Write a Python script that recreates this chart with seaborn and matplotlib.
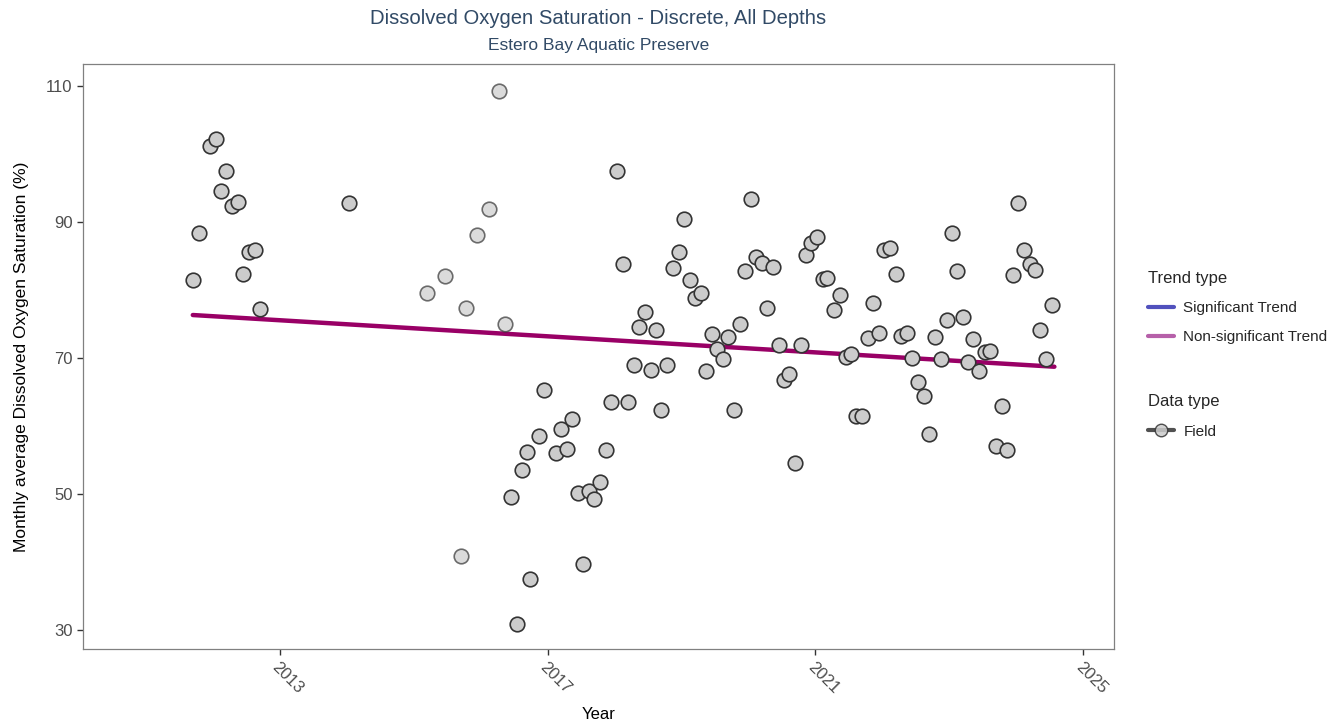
import numpy as np
import pandas as pd
import matplotlib
matplotlib.use("Agg")
import matplotlib.pyplot as plt
from matplotlib.lines import Line2D
import seaborn as sns

# ── data ──────────────────────────────────────────────────────────────────────

years = [
    2011.70, 2011.79, 2011.95, 2012.04, 2012.12, 2012.19, 2012.28, 2012.37,
    2012.45, 2012.54, 2012.63, 2012.70,
    2014.04,
    2015.20, 2015.46, 2015.71, 2015.78, 2015.95, 2016.12, 2016.28, 2016.37,
    2016.45, 2016.54, 2016.62, 2016.69, 2016.74, 2016.87, 2016.95,
    2017.12, 2017.20, 2017.29, 2017.36, 2017.45, 2017.53, 2017.62, 2017.70,
    2017.78, 2017.87, 2017.95, 2018.03, 2018.12, 2018.20, 2018.29, 2018.37,
    2018.45, 2018.54, 2018.62, 2018.70, 2018.78, 2018.87, 2018.96, 2019.03,
    2019.12, 2019.20, 2019.29, 2019.37, 2019.45, 2019.53, 2019.62, 2019.70,
    2019.78, 2019.87, 2019.95, 2020.04, 2020.12, 2020.20, 2020.28, 2020.36,
    2020.45, 2020.53, 2020.61, 2020.70, 2020.78, 2020.86, 2020.94, 2021.03,
    2021.11, 2021.18, 2021.28, 2021.37, 2021.45, 2021.53, 2021.61, 2021.69,
    2021.78, 2021.86, 2021.95, 2022.03, 2022.11, 2022.20, 2022.28, 2022.37,
    2022.45, 2022.53, 2022.62, 2022.70, 2022.78, 2022.87, 2022.96, 2023.04,
    2023.12, 2023.20, 2023.28, 2023.36, 2023.45, 2023.53, 2023.61, 2023.70,
    2023.78, 2023.86, 2023.95, 2024.03, 2024.12, 2024.20, 2024.28, 2024.36,
    2024.45, 2024.53,
]

do_sat = [
    81.5, 88.4, 101.2, 102.2, 94.6, 97.4, 92.4, 92.9,
    82.4, 85.6, 85.9, 77.2,
    92.8,
    79.6, 82.1, 40.9, 77.3, 88.1, 91.9, 109.3, 75.0,
    49.6, 30.9, 53.5, 56.2, 37.5, 58.5, 65.3,
    56.0, 59.6, 56.6, 61.0, 50.1, 39.7, 50.5, 49.3,
    51.8, 56.4, 63.5, 97.4, 83.8, 63.5, 69.0, 74.5,
    76.8, 68.2, 74.1, 62.4, 68.9, 83.2, 85.6, 90.4,
    81.4, 78.8, 79.6, 68.0, 73.5, 71.3, 69.9, 73.0,
    62.4, 75.0, 82.8, 93.3, 84.8, 84.0, 77.4, 83.3,
    71.9, 66.7, 67.7, 54.5, 71.9, 85.1, 86.9, 87.7,
    81.6, 81.8, 77.0, 79.3, 70.1, 70.5, 61.5, 61.5,
    72.9, 78.1, 73.7, 85.8, 86.2, 82.3, 73.2, 73.7,
    70.0, 66.4, 64.4, 58.8, 73.0, 69.9, 75.6, 88.3,
    82.8, 76.0, 69.4, 72.8, 68.0, 70.9, 71.0, 57.0,
    62.9, 56.5, 82.2, 92.8, 85.8, 83.8, 82.9, 74.1,
    69.8, 77.8,
]

# months drawn faded in the reference (few samples)
faded_years = [2015.20, 2015.46, 2015.71, 2015.78, 2015.95, 2016.12, 2016.28, 2016.37]

trend_years = [2011.70, 2024.57]
trend_values = [76.3, 68.7]

x_ticks = [2013, 2017, 2021, 2025]
y_ticks = [30, 50, 70, 90, 110]

# ── plot ──────────────────────────────────────────────────────────────────────

sns.set_theme(style="white")
plt.rcParams["font.family"] = ["Liberation Sans", "DejaVu Sans"]

df = pd.DataFrame({"Year": years, "DO": do_sat})
df["faded"] = df["Year"].isin(faded_years)
trend = pd.DataFrame({"Year": trend_years, "DO": trend_values})

fig = plt.figure(figsize=(13.41, 7.25), dpi=100)
ax = fig.add_axes([0.0619, 0.1048, 0.7688, 0.8069])

point_kw = dict(x="Year", y="DO", s=110, color="#cccccc",
                edgecolor="#333333", linewidth=1.2, ax=ax, legend=False, zorder=3)
sns.scatterplot(data=df[~df["faded"]], alpha=1.0, **point_kw)
sns.scatterplot(data=df[df["faded"]], alpha=0.7, **point_kw)
sns.lineplot(data=trend, x="Year", y="DO", color="#990066", linewidth=3.2,
             ax=ax, legend=False, zorder=2)

ax.set_xlim(2010.06, 2025.46)
ax.set_ylim(27.2, 113.2)
ax.set_xticks(x_ticks)
ax.set_xticklabels([str(t) for t in x_ticks], rotation=-45, ha="left",
                   rotation_mode="anchor", fontsize=12, color="#4d4d4d")
ax.set_yticks(y_ticks)
ax.set_yticklabels([str(t) for t in y_ticks], fontsize=12, color="#4d4d4d")
ax.tick_params(axis="both", length=4, width=1, color="#333333",
               bottom=True, left=True, direction="out")
for side in ax.spines.values():
    side.set_color("#808080")
    side.set_linewidth(0.9)

ax.set_xlabel("Year", fontsize=12, color="black", labelpad=8)
ax.set_ylabel("Monthly average Dissolved Oxygen Saturation (%)", fontsize=12.5,
              color="black", labelpad=12)

fig.text(0.4463, 0.975, "Dissolved Oxygen Saturation - Discrete, All Depths",
         ha="center", va="center", fontsize=14.6, color="#314a66")
fig.text(0.4463, 0.937, "Estero Bay Aquatic Preserve",
         ha="center", va="center", fontsize=12.5, color="#314a66")

trend_handles = [
    Line2D([], [], color="#3333b2", alpha=0.85, linewidth=3),
    Line2D([], [], color="#a9449a", alpha=0.85, linewidth=3),
]
leg1 = ax.legend(trend_handles, ["Significant Trend", "Non-significant Trend"],
                 title="Trend type", loc="upper left",
                 bbox_to_anchor=(1.02, 0.67), frameon=False, fontsize=11,
                 title_fontsize=12, handlelength=1.7, handletextpad=0.6,
                 labelspacing=1.0, alignment="left")
ax.add_artist(leg1)

data_handles = [
    Line2D([], [], color="#333333", alpha=0.85, linewidth=3, marker="o",
           markersize=9, markerfacecolor="#cccccc", markeredgecolor="#333333"),
]
ax.legend(data_handles, ["Field"], title="Data type", loc="upper left",
          bbox_to_anchor=(1.02, 0.459), frameon=False, fontsize=11,
          title_fontsize=12, handlelength=1.7, handletextpad=0.6,
          labelspacing=1.0, alignment="left")

fig.savefig("out.png", dpi=100)
